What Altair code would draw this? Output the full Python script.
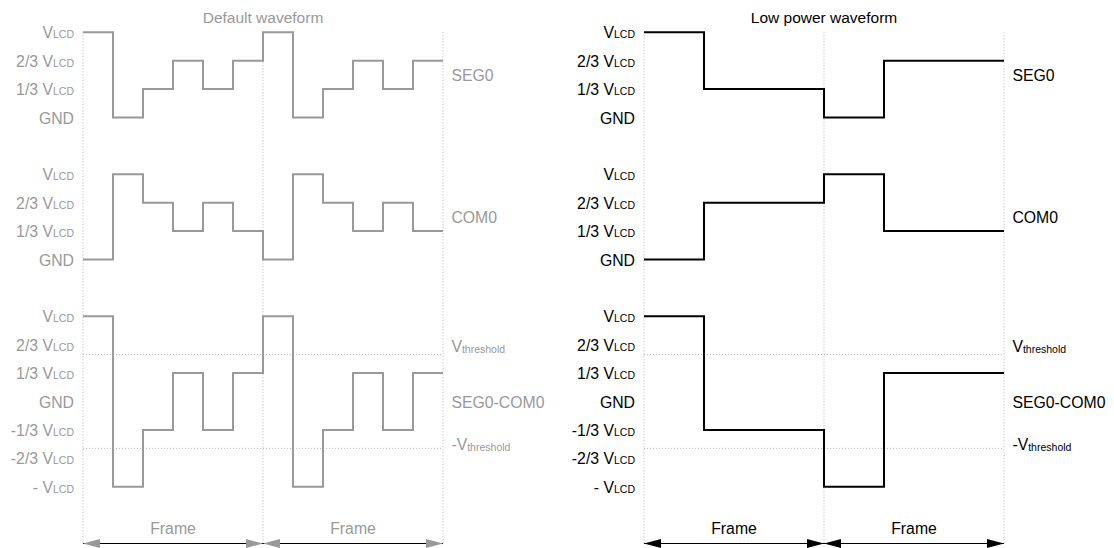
import altair as alt
import pandas as pd

# ---------------- data ----------------
# levels are expressed in thirds of V_LCD (3 = V_LCD, 0 = GND, -3 = -V_LCD)
# 12 sub-steps = 2 frames of 6 sub-steps each
default_seg0 = [3, 0, 1, 2, 1, 2, 3, 0, 1, 2, 1, 2]
default_com0 = [0, 3, 2, 1, 2, 1, 0, 3, 2, 1, 2, 1]
default_diff = [3, -3, -1, 1, -1, 1, 3, -3, -1, 1, -1, 1]
lowpower_seg0 = [3, 3, 1, 1, 1, 1, 0, 0, 2, 2, 2, 2]
lowpower_com0 = [0, 0, 2, 2, 2, 2, 3, 3, 1, 1, 1, 1]
lowpower_diff = [3, 3, -1, -1, -1, -1, -3, -3, 1, 1, 1, 1]

signal_names = ["SEG0", "COM0", "SEG0-COM0"]
row_base = [10, 5, 0]          # vertical offset of each trace, in 1/3 V_LCD units
row_levels = [[3, 2, 1, 0], [3, 2, 1, 0], [3, 2, 1, 0, -1, -2, -3]]

level_values = [3, 2, 1, 0, -1, -2, -3]
level_main = ["V", "2/3 V", "1/3 V", "GND", "-1/3 V", "-2/3 V", "- V"]
level_sub = ["LCD", "LCD", "LCD", "", "LCD", "LCD", "LCD"]

threshold = 0.55               # fraction of V_LCD
thr_main = ["V", "-V"]
thr_sub = ["threshold", "threshold"]
frame_bounds = [0, 6, 12]
frame_centers = [3, 9]
frame_labels = ["Frame", "Frame"]
titles = ["Default waveform", "Low power waveform"]

# ---------------- layout constants ----------------
FONT = "Liberation Sans"
FS = 15.8        # main text size
FS_SUB = 10.5    # subscript size
SUB_W = 21       # width of "LCD" subscript in px
V_W = 10.5       # width of "V" in px
DASH_W = 5.3     # width of "-" in px
PANEL_W = 549
PANEL_H = 540
PX_X = 30.0      # px per sub-step
PX_Y = 28.4      # px per 1/3 V_LCD
Y_TOP = 13.856
ARROW_Y = -5.0
FRAME_TEXT_Y = -4.67
TITLE_Y = 13.33
LABEL_GAP_L = 0.3
LABEL_GAP_R = 0.28
MID = 6          # half cap height offset


def panel(seg, com, diff, title, color, origin_px):
    xs = alt.Scale(domain=[-origin_px / PX_X, (PANEL_W - origin_px) / PX_X], nice=False, zero=False)
    ys = alt.Scale(domain=[Y_TOP - PANEL_H / PX_Y, Y_TOP], nice=False, zero=False)

    def X(f, **kw):
        return alt.X(f, type="quantitative", scale=xs, axis=None, **kw)

    def Y(f, **kw):
        return alt.Y(f, type="quantitative", scale=ys, axis=None, **kw)

    # waveforms
    rows = []
    for name, base, lv in zip(signal_names, row_base, [seg, com, diff]):
        pts = lv + [lv[-1]]
        for t, v in enumerate(pts):
            rows.append({"signal": name, "t": t, "y": base + v})
    wave = pd.DataFrame(rows)

    # y level labels
    lab = []
    for base, levels in zip(row_base, row_levels):
        for l in levels:
            i = level_values.index(l)
            lab.append({"x": -LABEL_GAP_L, "y": base + l, "main": level_main[i], "sub": level_sub[i]})
    lab = pd.DataFrame(lab)
    lab_sub = lab[lab["sub"] != ""]
    lab_nosub = lab[lab["sub"] == ""]

    vlines = pd.DataFrame({"t": frame_bounds, "y1": [row_base[0] + 3] * 3, "y2": [ARROW_Y] * 3})
    hlines = pd.DataFrame({"x1": [frame_bounds[0]] * 2, "x2": [frame_bounds[-1]] * 2,
                           "y": [threshold * 3, -threshold * 3]})
    names = pd.DataFrame({"x": [frame_bounds[-1] + LABEL_GAP_R] * 3,
                          "y": [row_base[0] + 1.5, row_base[1] + 1.5, row_base[2]],
                          "name": signal_names})
    thr = pd.DataFrame({"x": [frame_bounds[-1] + LABEL_GAP_R] * 2,
                        "y": [threshold * 3, -threshold * 3],
                        "main": thr_main, "sub": thr_sub})
    frames = pd.DataFrame({"x1": frame_bounds[:-1], "x2": frame_bounds[1:],
                           "xc": frame_centers, "label": frame_labels,
                           "y": [ARROW_Y] * 2, "ty": [FRAME_TEXT_Y] * 2})
    heads = pd.DataFrame({"x": frame_bounds[:-1] + frame_bounds[1:],
                          "dir": ["L", "L", "R", "R"], "y": [ARROW_Y] * 4})
    ttl = pd.DataFrame({"x": [(frame_bounds[0] + frame_bounds[-1]) / 2], "y": [TITLE_Y], "t": [title]})

    dotted = dict(color="#b4b4b4", strokeWidth=1, strokeDash=[1, 2])
    txt = dict(font=FONT, color=color, baseline="alphabetic")
    layers = [
        alt.Chart(vlines).mark_rule(**dotted).encode(x=X("t"), y=Y("y1"), y2="y2"),
        alt.Chart(hlines).mark_rule(**dotted).encode(x=X("x1"), x2="x2", y=Y("y")),
        alt.Chart(wave).mark_line(interpolate="step-after", strokeWidth=2, color=color).encode(
            x=X("t"), y=Y("y"), detail="signal:N", order="t:Q"),
        alt.Chart(lab_sub).mark_text(align="right", dx=-SUB_W, dy=MID, fontSize=FS, **txt).encode(
            x=X("x"), y=Y("y"), text="main:N"),
        alt.Chart(lab_sub).mark_text(align="right", dy=MID, fontSize=FS_SUB, **txt).encode(
            x=X("x"), y=Y("y"), text="sub:N"),
        alt.Chart(lab_nosub).mark_text(align="right", dy=MID, fontSize=FS, **txt).encode(
            x=X("x"), y=Y("y"), text="main:N"),
        alt.Chart(names).mark_text(align="left", dy=MID, fontSize=FS, **txt).encode(
            x=X("x"), y=Y("y"), text="name:N"),
        alt.Chart(thr.iloc[[0]]).mark_text(align="left", dy=-3, fontSize=FS, **txt).encode(
            x=X("x"), y=Y("y"), text="main:N"),
        alt.Chart(thr.iloc[[0]]).mark_text(align="left", dy=-2, dx=V_W, fontSize=FS_SUB, **txt).encode(
            x=X("x"), y=Y("y"), text="sub:N"),
        alt.Chart(thr.iloc[[1]]).mark_text(align="left", dy=2, fontSize=FS, **txt).encode(
            x=X("x"), y=Y("y"), text="main:N"),
        alt.Chart(thr.iloc[[1]]).mark_text(align="left", dy=3, dx=V_W + DASH_W, fontSize=FS_SUB,
                                           **txt).encode(
            x=X("x"), y=Y("y"), text="sub:N"),
        alt.Chart(frames).mark_rule(color="black", strokeWidth=1).encode(
            x=X("x1"), x2="x2", y=Y("y")),
        alt.Chart(frames).mark_text(align="center", fontSize=FS, **txt).encode(
            x=X("xc"), y=Y("ty"), text="label:N"),
        alt.Chart(heads[heads["dir"] == "L"]).mark_point(
            shape="M 0 0 L 2 -0.53 L 2 0.53 Z", size=289, filled=True, opacity=1,
            color=color, strokeWidth=0).encode(x=X("x"), y=Y("y")),
        alt.Chart(heads[heads["dir"] == "R"]).mark_point(
            shape="M 0 0 L -2 -0.53 L -2 0.53 Z", size=289, filled=True, opacity=1,
            color=color, strokeWidth=0).encode(x=X("x"), y=Y("y")),
        alt.Chart(ttl).mark_text(align="center", fontSize=15.5, **txt).encode(
            x=X("x"), y=Y("y"), text="t:N"),
    ]
    return alt.layer(*layers).properties(width=PANEL_W, height=PANEL_H)


left = panel(default_seg0, default_com0, default_diff, titles[0], "#999999", 75)
right = panel(lowpower_seg0, lowpower_com0, lowpower_diff, titles[1], "#000000", 87)

chart = alt.hconcat(left, right, spacing=0, bounds="flush").configure_view(
    stroke=None).properties(padding=0)

chart.save("out.html", embed_options={"renderer": "svg", "actions": False})
